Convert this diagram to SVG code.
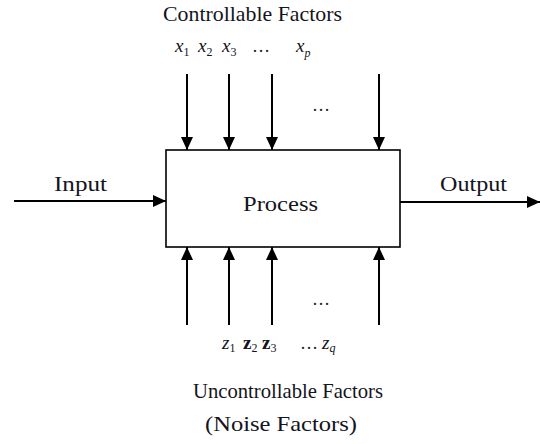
<svg xmlns="http://www.w3.org/2000/svg" width="540" height="444" viewBox="0 0 540 444">
<style>
.t{font-family:"Liberation Serif","Times New Roman",serif;fill:#141420}
.lbl{font-size:21px}
.big{font-size:22px}
.v{font-family:"Liberation Serif","Times New Roman",serif;font-size:19px;fill:#141420}
.it{font-style:italic}
.sub{font-size:12px}
.c{stroke:#000;stroke-width:2;fill:none}
.box{fill:#fff;stroke:#000;stroke-width:1.6}
.dots{font-family:"Liberation Serif",serif;font-size:18px;fill:#222}
</style>
<defs>
<marker id="ah" viewBox="0 0 13 12" refX="13" refY="6" markerWidth="13" markerHeight="12" markerUnits="userSpaceOnUse" orient="auto">
<path d="M0,0 L13,6 L0,12 z" fill="#000"/>
</marker>
</defs>
<g id="connectors">
<line class="c" x1="187" y1="74" x2="187" y2="150" marker-end="url(#ah)"/>
<line class="c" x1="229" y1="74" x2="229" y2="150" marker-end="url(#ah)"/>
<line class="c" x1="272" y1="74" x2="272" y2="150" marker-end="url(#ah)"/>
<line class="c" x1="379" y1="74" x2="379" y2="150" marker-end="url(#ah)"/>
<line class="c" x1="187" y1="325" x2="187" y2="247" marker-end="url(#ah)"/>
<line class="c" x1="229" y1="325" x2="229" y2="247" marker-end="url(#ah)"/>
<line class="c" x1="272" y1="325" x2="272" y2="247" marker-end="url(#ah)"/>
<line class="c" x1="379" y1="325" x2="379" y2="247" marker-end="url(#ah)"/>
<line class="c" x1="14" y1="201" x2="166" y2="201" marker-end="url(#ah)"/>
<line class="c" x1="400" y1="202" x2="540" y2="202" marker-end="url(#ah)"/>
</g>
<g id="process">
<rect class="box" x="166" y="150" width="234" height="97"/>
<text class="t big" x="243" y="211" textLength="75" lengthAdjust="spacingAndGlyphs">Process</text>
</g>
<g id="input">
<text class="t big" x="54" y="191" textLength="53" lengthAdjust="spacingAndGlyphs">Input</text>
</g>
<g id="output">
<text class="t big" x="440" y="191" textLength="67" lengthAdjust="spacingAndGlyphs">Output</text>
</g>
<g id="controllable">
<text class="t lbl" x="163" y="21" textLength="179" lengthAdjust="spacingAndGlyphs">Controllable Factors</text>
<text class="v" x="175" y="52"><tspan class="it">x</tspan><tspan class="sub" dy="4">1</tspan></text>
<text class="v" x="198" y="52"><tspan class="it">x</tspan><tspan class="sub" dy="4">2</tspan></text>
<text class="v" x="222" y="52"><tspan class="it">x</tspan><tspan class="sub" dy="4">3</tspan></text>
<text class="dots" x="252" y="52">…</text>
<text class="v" x="296" y="52"><tspan class="it">x</tspan><tspan class="sub it" dy="5">p</tspan></text>
<text class="dots" x="312" y="111">…</text>
</g>
<g id="uncontrollable">
<text class="dots" x="312" y="305">…</text>
<text class="v" x="222" y="349"><tspan class="it">z</tspan><tspan class="sub" dy="3">1</tspan></text>
<text class="v" x="243" y="349"><tspan font-weight="bold">z</tspan><tspan class="sub" dy="3">2</tspan></text>
<text class="v" x="262" y="349"><tspan font-weight="bold">z</tspan><tspan class="sub" dy="3">3</tspan></text>
<text class="dots" x="300" y="349">…</text>
<text class="v" x="322" y="349"><tspan class="it">z</tspan><tspan class="sub it" dy="3">q</tspan></text>
<text class="t lbl" x="193" y="398" textLength="190" lengthAdjust="spacingAndGlyphs">Uncontrollable Factors</text>
<text class="t lbl" x="205" y="431" textLength="152" lengthAdjust="spacingAndGlyphs">(Noise Factors)</text>
</g>
</svg>
